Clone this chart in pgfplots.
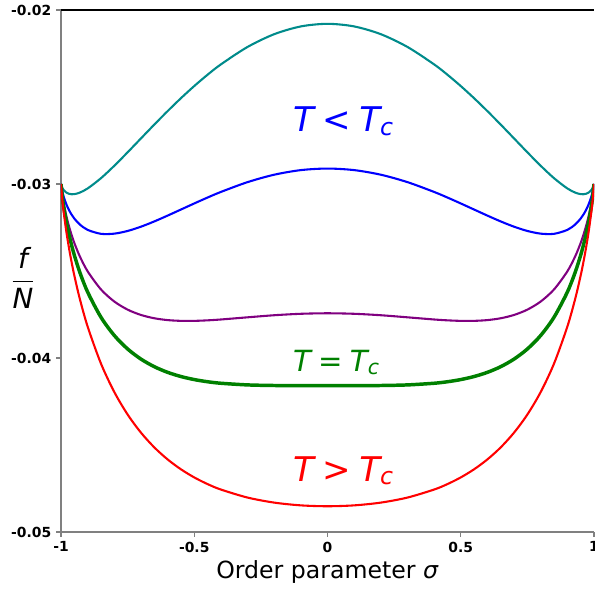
\documentclass[border=0pt]{standalone}
\usepackage{pgfplots}
\pgfplotsset{compat=1.18}
\usepackage{pgfplotstable}
\usepackage{fontspec}
\setmainfont{DejaVu Sans}
\definecolor{mteal}{RGB}{0,139,139}
\definecolor{mblue}{RGB}{0,0,255}
\definecolor{mpurple}{RGB}{128,0,128}
\definecolor{mgreen}{RGB}{0,128,0}
\definecolor{mred}{RGB}{255,0,0}
\definecolor{spinegray}{RGB}{128,128,128}

\pgfplotstableread{
s teal blue purple green red
-1 -0.03 -0.03 -0.03 -0.03 -0.03
-0.995 -0.0302243 -0.030434 -0.0306437 -0.0307486 -0.0309233
-0.99 -0.0303474 -0.0307252 -0.0311029 -0.0312918 -0.0316066
-0.98 -0.0304921 -0.0311641 -0.0318361 -0.0321721 -0.0327321
-0.97 -0.0305635 -0.0314981 -0.0324327 -0.0329 -0.0336788
-0.96 -0.0305892 -0.0317656 -0.0329421 -0.0335303 -0.0345107
-0.95 -0.0305822 -0.0319851 -0.033388 -0.0340894 -0.0352585
-0.93 -0.0304984 -0.032319 -0.0341396 -0.0350498 -0.036567
-0.9 -0.0302555 -0.0326376 -0.0350198 -0.0362109 -0.0381961
-0.85 -0.0296666 -0.0328632 -0.0360598 -0.0376581 -0.040322
-0.8 -0.0289525 -0.0328535 -0.0367545 -0.038705 -0.0419559
-0.75 -0.0281781 -0.0326993 -0.0372206 -0.0394812 -0.0432489
-0.7 -0.0273813 -0.0324538 -0.0375263 -0.0400625 -0.0442896
-0.65 -0.0265868 -0.0321515 -0.0377163 -0.0404986 -0.0451359
-0.6 -0.0258121 -0.0318169 -0.0378217 -0.0408241 -0.0458281
-0.55 -0.0250699 -0.0314678 -0.0378658 -0.0410648 -0.0463964
-0.5 -0.0243701 -0.0311181 -0.0378661 -0.0412401 -0.0468635
-0.45 -0.0237201 -0.0307781 -0.0378361 -0.0413651 -0.0472468
-0.4 -0.0231259 -0.0304563 -0.0377867 -0.0414518 -0.0475605
-0.3 -0.0221234 -0.0298928 -0.0376621 -0.0415468 -0.0480213
-0.2 -0.0213904 -0.0294665 -0.0375426 -0.0415807 -0.0483108
-0.1 -0.0209442 -0.0292018 -0.0374595 -0.0415883 -0.0484697
0 -0.0207944 -0.0291122 -0.0374299 -0.0415888 -0.0485203
0.1 -0.0209442 -0.0292018 -0.0374595 -0.0415883 -0.0484697
0.2 -0.0213904 -0.0294665 -0.0375426 -0.0415807 -0.0483108
0.3 -0.0221234 -0.0298928 -0.0376621 -0.0415468 -0.0480213
0.4 -0.0231259 -0.0304563 -0.0377867 -0.0414518 -0.0475605
0.45 -0.0237201 -0.0307781 -0.0378361 -0.0413651 -0.0472468
0.5 -0.0243701 -0.0311181 -0.0378661 -0.0412401 -0.0468635
0.55 -0.0250699 -0.0314678 -0.0378658 -0.0410648 -0.0463964
0.6 -0.0258121 -0.0318169 -0.0378217 -0.0408241 -0.0458281
0.65 -0.0265868 -0.0321515 -0.0377163 -0.0404986 -0.0451359
0.7 -0.0273813 -0.0324538 -0.0375263 -0.0400625 -0.0442896
0.75 -0.0281781 -0.0326993 -0.0372206 -0.0394812 -0.0432489
0.8 -0.0289525 -0.0328535 -0.0367545 -0.038705 -0.0419559
0.85 -0.0296666 -0.0328632 -0.0360598 -0.0376581 -0.040322
0.9 -0.0302555 -0.0326376 -0.0350198 -0.0362109 -0.0381961
0.93 -0.0304984 -0.032319 -0.0341396 -0.0350498 -0.036567
0.95 -0.0305822 -0.0319851 -0.033388 -0.0340894 -0.0352585
0.96 -0.0305892 -0.0317656 -0.0329421 -0.0335303 -0.0345107
0.97 -0.0305635 -0.0314981 -0.0324327 -0.0329 -0.0336788
0.98 -0.0304921 -0.0311641 -0.0318361 -0.0321721 -0.0327321
0.99 -0.0303474 -0.0307252 -0.0311029 -0.0312918 -0.0316066
0.995 -0.0302243 -0.030434 -0.0306437 -0.0307486 -0.0309233
1 -0.03 -0.03 -0.03 -0.03 -0.03
}\fdata

\begin{document}
\begin{tikzpicture}
\begin{axis}[
  scale only axis, width=383.76pt, height=375.84pt,
  xmin=-1, xmax=1, ymin=-0.05, ymax=-0.02,
  clip mode=individual,
  axis x line*=bottom, axis y line*=left,
  axis line style={-, spinegray, line width=1.2pt},
  tick align=outside, major tick length=3.5pt,
  tick style={spinegray, line width=0.8pt},
  xtick={-1,-0.5,0,0.5,1}, xticklabels={-1,-0.5,0,0.5,1},
  ytick={-0.05,-0.04,-0.03,-0.02}, yticklabels={-0.05,-0.04,-0.03,-0.02},
  ticklabel style={font=\fontsize{10}{12}\selectfont\bfseries},
  every axis plot/.append style={smooth, no markers},
]
\addplot[mteal, line width=1.5pt] table[x=s, y=teal] {\fdata};
\addplot[mblue, line width=1.5pt] table[x=s, y=blue] {\fdata};
\addplot[mpurple, line width=1.5pt] table[x=s, y=purple] {\fdata};
\addplot[mgreen, line width=2.5pt] table[x=s, y=green] {\fdata};
\addplot[mred, line width=1.5pt] table[x=s, y=red] {\fdata};
\draw[black, line width=1.2pt] (rel axis cs:0,1) -- (rel axis cs:1,1);
\node[anchor=base west, inner sep=0pt, text=mblue, font=\fontsize{24.5}{28}\selectfont] at (axis cs:-0.13,-0.0270) {\itshape T\hspace{0.25em}\upshape<\hspace{0.25em}\itshape T\raisebox{-0.1em}{\fontsize{17}{20}\selectfont c}};
\node[anchor=base west, inner sep=0pt, text=mgreen, font=\fontsize{21}{25}\selectfont] at (axis cs:-0.13,-0.0408) {\itshape T\hspace{0.25em}\upshape=\hspace{0.25em}\itshape T\raisebox{-0.1em}{\fontsize{14.7}{17}\selectfont c}};
\node[anchor=base west, inner sep=0pt, text=mred, font=\fontsize{24.5}{28}\selectfont] at (axis cs:-0.13,-0.0471) {\itshape T\hspace{0.25em}\upshape>\hspace{0.25em}\itshape T\raisebox{-0.1em}{\fontsize{17}{20}\selectfont c}};
\node[font=\fontsize{20}{24}\selectfont, xshift=-27.4pt] at (rel axis cs:0,0.4866) {$\displaystyle\frac{\mbox{\itshape f}}{\mbox{\itshape N}}$};
\node[anchor=base, font=\fontsize{17}{20}\selectfont, yshift=-33.8pt] at (rel axis cs:0.5,0) {Order parameter \textit{σ}};
\end{axis}
\pgfresetboundingbox
\useasboundingbox (-43.92pt,-41.76pt) rectangle (384.48pt,383.04pt);
\end{tikzpicture}
\end{document}
